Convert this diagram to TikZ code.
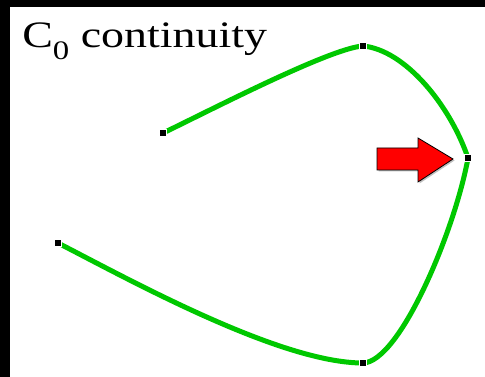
\documentclass[tikz,border=0pt]{standalone}
\usepackage{graphicx}
\usepackage{fontspec}
\setmainfont{Liberation Serif}
\definecolor{curvegreen}{RGB}{0,200,0}
\definecolor{arrowred}{RGB}{255,0,0}
\begin{document}
\begin{tikzpicture}[x=0.75pt,y=-0.75pt,
  curve/.style={draw=curvegreen,line width=3.75pt},
  knot/.style={rectangle,fill=black,draw=white,line width=0.9pt,minimum size=5pt,inner sep=0pt},
  blockarrow/.style={fill=arrowred,draw=black,line width=0.6pt,line join=miter}]
% background and frame
\fill[black] (0,0) rectangle (485,377);
\fill[white] (10,7) rectangle (485,377);
\useasboundingbox (0,0) rectangle (485,377);
% title
\node[anchor=base west,inner sep=0pt] (title) at (22,48)
  {\scalebox{1.23}[1]{\fontsize{28}{30}\selectfont C\raisebox{-9pt}{\fontsize{20}{22}\selectfont 0} continuity}};
% knots
\coordinate (A) at (163,133);
\coordinate (B) at (363,46);
\coordinate (C) at (468,158);
\coordinate (D) at (58,243);
\coordinate (E) at (363,363);
% curves
\draw[curve] (A) .. controls (205,113) and (330,48) .. (B);
\draw[curve] (B) .. controls (405,50) and (450,105) .. (C);
\draw[curve] (D) .. controls (130,280) and (280,363) .. (E);
\draw[curve] (E) .. controls (400,362) and (455,230) .. (C);
\node[knot] (kA) at (A) {};
\node[knot] (kB) at (B) {};
\node[knot] (kC) at (C) {};
\node[knot] (kD) at (D) {};
\node[knot] (kE) at (E) {};
% red arrow with soft shadow
\fill[black!25] (378.5,149.5) -- (419.5,149.5) -- (419.5,139.5) -- (454.5,160.5) -- (419.5,183.5) -- (419.5,171.5) -- (378.5,171.5) -- cycle;
\path[blockarrow] (377,148) -- (418,148) -- (418,138) -- (453,159) -- (418,182) -- (418,170) -- (377,170) -- cycle;
\end{tikzpicture}
\end{document}
